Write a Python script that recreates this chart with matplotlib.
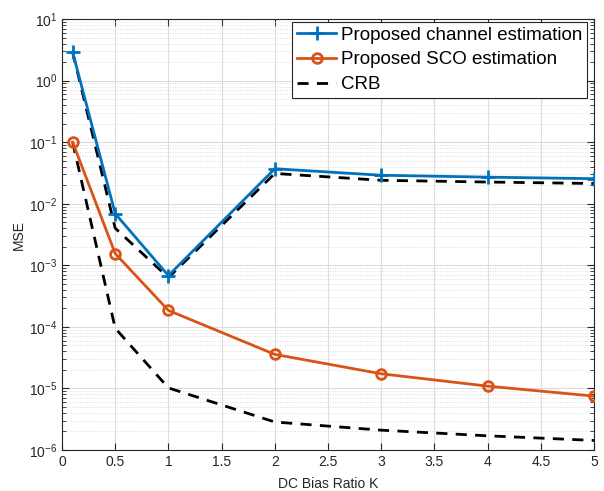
import matplotlib
matplotlib.use("Agg")
import matplotlib.pyplot as plt
from matplotlib.ticker import LogLocator, NullFormatter

plt.rcParams['font.family'] = ['Liberation Sans', 'DejaVu Sans']

K = [0.1, 0.5, 1, 2, 3, 4, 5]
mse_channel = [2.9, 6.9e-3, 6.8e-4, 3.7e-2, 2.9e-2, 2.7e-2, 2.55e-2]
mse_sco = [0.1, 1.55e-3, 1.85e-4, 3.57e-5, 1.73e-5, 1.09e-5, 7.5e-6]
crb_channel = [2.9, 4.0e-3, 6.3e-4, 3.1e-2, 2.4e-2, 2.25e-2, 2.13e-2]
crb_sco = [0.1, 9.5e-5, 1.02e-5, 2.85e-6, 2.1e-6, 1.7e-6, 1.43e-6]
xticks = [0, 0.5, 1, 1.5, 2, 2.5, 3, 3.5, 4, 4.5, 5]
xticklabels = ['0', '0.5', '1', '1.5', '2', '2.5', '3', '3.5', '4', '4.5', '5']

blue = '#0072BD'
orange = '#D95319'
txt = '#262626'

fig = plt.figure(figsize=(6.04, 4.91), dpi=100)
ax = fig.add_axes([62/604, 1-450/491, (594-62)/604, (450-19)/491])

ax.plot(K, crb_channel, '--', color='black', lw=2, dashes=(4, 3), zorder=2)
ax.plot(K, crb_sco, '--', color='black', lw=2, dashes=(4, 3), zorder=2)
ax.plot(K, mse_channel, '-', color=blue, lw=2, marker='+', ms=10, mew=2,
        label='Proposed channel estimation', zorder=3)
ax.plot(K, mse_sco, '-', color=orange, lw=2, marker='o', ms=7, mew=2,
        mfc='none', label='Proposed SCO estimation', zorder=3)
ax.plot([], [], '--', color='black', lw=2, dashes=(4, 3), label='CRB')

ax.set_yscale('log')
ax.set_xlim(0, 5)
ax.set_ylim(1e-6, 10)
ax.set_xticks(xticks)
ax.set_xticklabels(xticklabels)
ax.yaxis.set_major_locator(LogLocator(base=10, numticks=20))
ax.yaxis.set_minor_locator(LogLocator(base=10, subs=range(2, 10), numticks=20))
ax.yaxis.set_minor_formatter(NullFormatter())

ax.grid(True, which='major', color='#dcdcdc', lw=0.8, ls='-')
ax.grid(True, which='minor', axis='y', color='#d0d0d0', lw=0.6, ls=(0, (1, 2)))
ax.set_axisbelow(True)

ax.tick_params(which='both', direction='in', top=True, right=True,
               labelsize=10, colors=txt)
ax.tick_params(which='major', length=5)
ax.tick_params(which='minor', length=3)
for s in ax.spines.values():
    s.set_color(txt)
    s.set_linewidth(0.8)

ax.set_xlabel('DC Bias Ratio K', fontsize=10, color=txt, labelpad=6)
ax.set_ylabel('MSE', fontsize=10, color=txt, labelpad=2)

leg = ax.legend(loc='upper right', bbox_to_anchor=((587 - 62) / 532, (450 - 22) / 431),
                fontsize=13.5, frameon=True, fancybox=False,
                edgecolor=txt, framealpha=1, borderpad=0.25, labelspacing=0.4,
                handlelength=2.1, handletextpad=0.25, borderaxespad=0.0)
leg.get_frame().set_linewidth(0.8)

fig.savefig('out.png', dpi=100)
